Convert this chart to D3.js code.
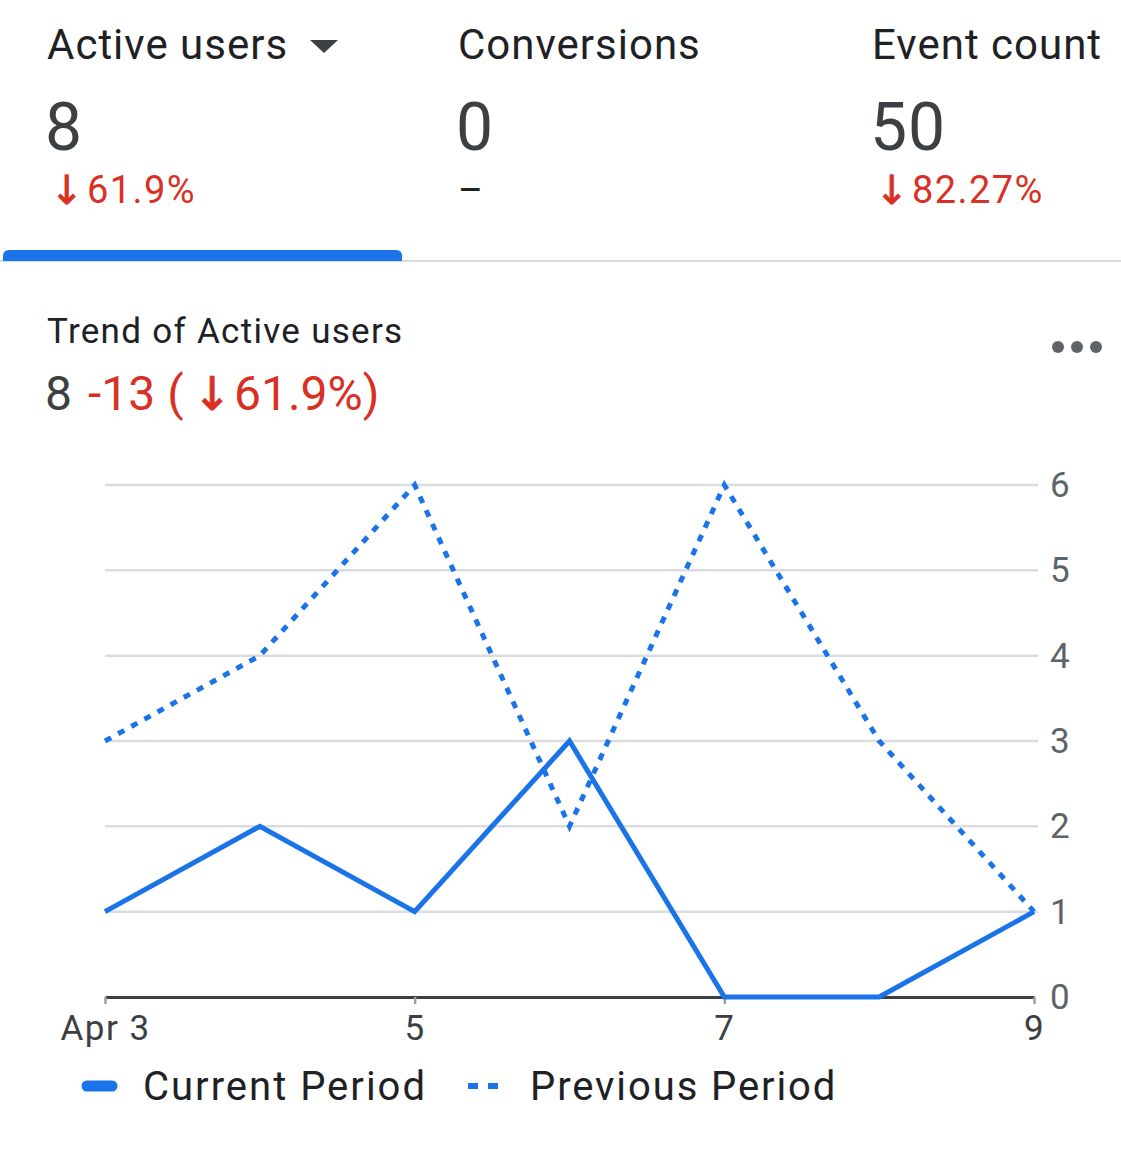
<!DOCTYPE html>
<html><head><meta charset="utf-8">
<script src="https://cdn.jsdelivr.net/npm/d3@7/dist/d3.min.js"></script>
<style>
html,body{margin:0;padding:0;background:#fff;}
svg{display:block;font-family:Roboto,"Noto Sans",sans-serif;}
</style></head><body>
<svg id="c" width="1121" height="1163"></svg>
<script>
const days = [3,4,5,6,7,8,9];
const currentPeriod = [1,2,1,3,0,0,1];
const previousPeriod = [3,4,6,2,6,3,1];
const xTickValues = [3,5,7,9];
const xTickLabels = ["Apr 3","5","7","9"];
const yTickValues = [0,1,2,3,4,5,6];
const cardLabels = ["Active users","Conversions","Event count"];
const cardValues = ["8","0","50"];
const cardChanges = ["61.9%", null, "82.27%"];
const seriesNames = ["Current Period","Previous Period"];

const svg = d3.select("#c");
const RED = "#d93025", BLUE = "#1a73e8", DARK = "#202124", NUM = "#3c4043";
const ARROW_FONT = "'DejaVu Sans', sans-serif";

// cards
const cardX = [47, 458, 872];
cardLabels.forEach((lab,i)=>{
  const g = svg.append("g").attr("transform",`translate(${cardX[i]},0)`);
  g.append("text").attr("x",0).attr("y",59).attr("font-size",42).attr("letter-spacing",1).attr("fill",DARK).text(lab);
  g.append("text").attr("x",-2).attr("y",150).attr("font-size",66).attr("letter-spacing",1).attr("fill",NUM).text(cardValues[i]);
  if(cardChanges[i]){
    const t = g.append("text").attr("y",203).attr("fill",RED);
    t.append("tspan").attr("x",3).attr("dy",1).attr("font-size",40).attr("font-family",ARROW_FONT)
      .attr("stroke",RED).attr("stroke-width",0.8).text("\u2193");
    t.append("tspan").attr("x",40).attr("dy",-1).attr("font-size",38).attr("letter-spacing",1.4).text(cardChanges[i]);
  } else {
    g.append("text").attr("x",0).attr("y",203).attr("font-size",38).attr("fill",DARK).text("\u2013");
  }
});
// dropdown triangle
svg.append("path").attr("d","M310,40 L338,40 L324,53 Z").attr("fill",NUM);
// tab underline
svg.append("rect").attr("x",0).attr("y",260).attr("width",1121).attr("height",2).attr("fill","#dadce0");
svg.append("path").attr("d","M3,261 L3,256 Q3,250 9,250 L396,250 Q402,250 402,256 L402,261 Z").attr("fill",BLUE);

// trend header
svg.append("text").attr("x",47).attr("y",343).attr("font-size",35).attr("letter-spacing",1.3).attr("fill",DARK).text("Trend of Active users");
const h = svg.append("text").attr("y",410).attr("font-size",48);
h.append("tspan").attr("x",45).attr("fill",NUM).text("8");
h.append("tspan").attr("x",88).attr("fill",RED).text("-13 (");
h.append("tspan").attr("x",193).attr("dy",0).attr("fill",RED).attr("font-family",ARROW_FONT).attr("font-size",46)
  .attr("stroke",RED).attr("stroke-width",1).text("\u2193");
h.append("tspan").attr("x",234).attr("dy",0).attr("fill",RED).text("61.9%)");
// more dots
[1058,1077,1096].forEach(cx=>svg.append("circle").attr("cx",cx).attr("cy",347).attr("r",6).attr("fill","#5f6368"));

// chart
const x = d3.scaleLinear().domain([3,9]).range([105,1034]);
const y = d3.scaleLinear().domain([0,6]).range([997,485]);

svg.append("g").selectAll("line").data(yTickValues.filter(v=>v>0)).join("line")
  .attr("x1",105).attr("x2",1038).attr("y1",d=>y(d)).attr("y2",d=>y(d))
  .attr("stroke","#dadce0").attr("stroke-width",2.5);
svg.append("g").selectAll("text").data(yTickValues).join("text")
  .attr("x",1050).attr("y",d=>y(d)+12).attr("font-size",35).attr("letter-spacing",1).attr("fill","#5f6368").text(d=>d);

const xAxis = d3.axisBottom(x).tickValues(xTickValues).tickFormat((d,i)=>xTickLabels[i]).tickSize(7).tickSizeOuter(0);
const xg = svg.append("g").attr("transform",`translate(0,${y(0)})`).call(xAxis);
xg.select(".domain").attr("stroke","#3c4043").attr("stroke-width",3);
xg.selectAll(".tick line").attr("stroke","#9aa0a6").attr("stroke-width",2.5);
xg.selectAll(".tick text").attr("font-size",35).attr("letter-spacing",1.5).attr("fill","#3c4043")
  .attr("font-family","Roboto").attr("dy",0).attr("y",43);

const line = d3.line().x((d,i)=>x(days[i])).y(d=>y(d));
svg.append("path").datum(previousPeriod).attr("d",line).attr("fill","none")
  .attr("stroke",BLUE).attr("stroke-width",5).attr("stroke-dasharray","7,8");
svg.append("path").datum(currentPeriod).attr("d",line).attr("fill","none")
  .attr("stroke",BLUE).attr("stroke-width",5).attr("stroke-linejoin","miter");

// legend
const lg = svg.append("g");
lg.append("line").attr("x1",87).attr("x2",112).attr("y1",1086).attr("y2",1086).attr("stroke",BLUE).attr("stroke-width",11).attr("stroke-linecap","round");
lg.append("text").attr("x",143).attr("y",1100).attr("font-size",40).attr("letter-spacing",2).attr("fill",DARK).text(seriesNames[0]);
lg.append("line").attr("x1",468).attr("x2",498).attr("y1",1086).attr("y2",1086).attr("stroke",BLUE).attr("stroke-width",6).attr("stroke-dasharray","10,10");
lg.append("text").attr("x",530).attr("y",1100).attr("font-size",40).attr("letter-spacing",1.9).attr("fill",DARK).text(seriesNames[1]);
</script></body></html>
